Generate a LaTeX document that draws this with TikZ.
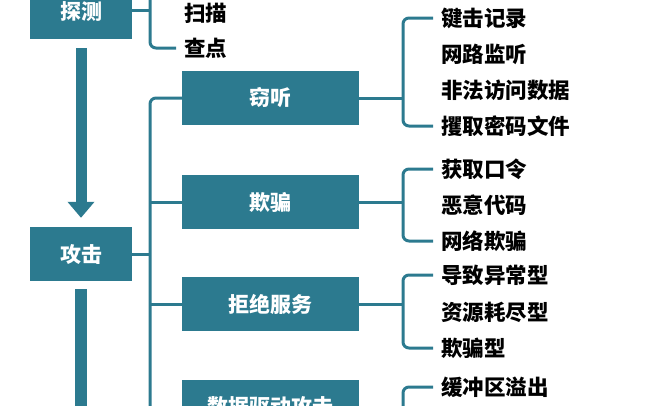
\documentclass[tikz,border=0pt]{standalone}
\usepackage{fontspec}
\newfontfamily\cjk{Noto Sans CJK SC}
\usetikzlibrary{arrows.meta}
\definecolor{teal}{HTML}{2C7A8F}
\tikzset{
  phase/.style={fill=teal,text=white,minimum width=102pt,minimum height=54pt,inner sep=0pt,font=\cjk\bfseries\fontsize{21}{21}\selectfont},
  kind/.style={phase,minimum width=177pt},
  item/.style={anchor=west,inner xsep=8pt,inner ysep=0pt,font=\cjk\bfseries\fontsize{21.5}{21.5}\selectfont},
  link/.style={draw=teal,line width=3pt},
  bigarrow/.style={draw=teal,line width=11pt,-{Triangle[width=26pt,length=16pt]}}
}
\begin{document}
\begin{tikzpicture}[x=1pt,y=-1pt]
  \useasboundingbox (0,0) rectangle (648,405);
  \clip (0,0) rectangle (648,405);
  \def\xl{150}\def\xr{403}\def\xi{433}
  % left column
  \node[phase] (probe) at (81,12) {探测};
  \node[phase] (attack) at (81,254) {攻击};
  \coordinate (down) at (81,430);
  \draw[bigarrow,shorten <=9pt,shorten >=9pt] (probe.south) -- (attack.north);
  \draw[draw=teal,line width=12pt] ([yshift=-8pt]attack.south) -- (down);
  % probe items
  \node[item] (scan) at (176,13) {扫描};
  \node[item] (check) at (176,48) {查点};
  \coordinate (probebrk) at (\xl,10);
  \draw[link] (probe.east |- probebrk) -- (probebrk);
  \draw[link,rounded corners=6pt] (\xl,-20) |- (check.west);
  % attack kinds
  \node[kind] (eaves) at (270.5,98) {窃听};
  \node[kind] (cheat) at (270.5,202) {欺骗};
  \node[kind] (deny) at (270.5,304) {拒绝服务};
  \node[kind] (data) at (270.5,407) {数据驱动攻击};
  \coordinate (attackbrk) at (\xl,254);
  \draw[link,rounded corners=6pt] (eaves.west) -| (\xl,430);
  \draw[link] (attack.east) -- (attackbrk);
  \foreach \k in {cheat,deny,data}
    \draw[link] (\k.west) -- (\xl,0 |- \k.west);
  % eavesdropping
  \node[item] (e1) at (\xi,18) {键击记录};
  \node[item] (e2) at (\xi,54) {网路监听};
  \node[item] (e3) at (\xi,90) {非法访问数据};
  \node[item] (e4) at (\xi,126) {攫取密码文件};
  % cheating
  \node[item] (c1) at (\xi,169) {获取口令};
  \node[item] (c2) at (\xi,205) {恶意代码};
  \node[item] (c3) at (\xi,241) {网络欺骗};
  % denial of service
  \node[item] (d1) at (\xi,275) {导致异常型};
  \node[item] (d2) at (\xi,312) {资源耗尽型};
  \node[item] (d3) at (\xi,348) {欺骗型};
  % data driven
  \node[item] (a1) at (\xi,387) {缓冲区溢出};
  \coordinate (databot) at (\xr,440);
  \foreach \k/\f/\l in {eaves/e1/e4,cheat/c1/c3,deny/d1/d3}{
    \coordinate (\k brk) at (\xr,0 |- \k.east);
    \draw[link] (\k.east) -- (\k brk);
    \draw[link,rounded corners=6pt] (\f.west) -| (\k brk) |- (\l.west);
  }
  \draw[link] (data.east) -- (\xr,0 |- data.east);
  \draw[link,rounded corners=6pt] (a1.west) -| (databot);
\end{tikzpicture}
\end{document}
